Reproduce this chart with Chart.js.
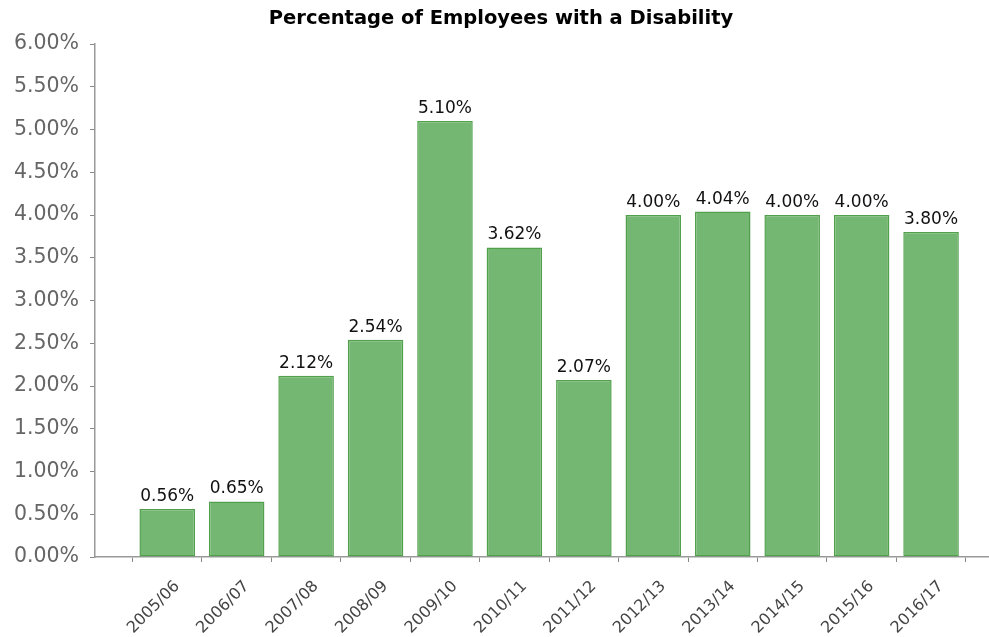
<!DOCTYPE html>
<html>
<head>
<meta charset="utf-8">
<script src="https://cdn.jsdelivr.net/npm/chart.js@4.4.1/dist/chart.umd.min.js"></script>
<style>
  html, body { margin: 0; padding: 0; background: #fff; }
  #wrap { width: 989px; height: 637px; }
</style>
</head>
<body>
<div id="wrap"><canvas id="disability-chart"></canvas></div>
<script>
const PERIODS = [
  '2005/06', '2006/07', '2007/08', '2008/09', '2009/10', '2010/11',
  '2011/12', '2012/13', '2013/14', '2014/15', '2015/16', '2016/17'
];

const PERCENTAGES = [0.56, 0.65, 2.12, 2.54, 5.10, 3.62, 2.07, 4.00, 4.04, 4.00, 4.00, 3.80];

const Y_TICKS = [0, 0.5, 1, 1.5, 2, 2.5, 3, 3.5, 4, 4.5, 5, 5.5, 6];

const FONT = "'DejaVu Sans', Verdana, sans-serif";

// draws the value above every bar, the page has no datalabels plugin
const valueLabels = {
  id: 'valueLabels',
  afterDatasetsDraw(chart) {
    const ctx = chart.ctx;
    const meta = chart.getDatasetMeta(0);
    ctx.save();
    ctx.font = '17px ' + FONT;
    ctx.fillStyle = '#111';
    ctx.textAlign = 'center';
    ctx.textBaseline = 'alphabetic';
    meta.data.forEach((bar, i) => {
      ctx.fillText(PERCENTAGES[i].toFixed(2) + '%', bar.x, bar.y - 8);
    });
    ctx.restore();
  }
};

const points = PERCENTAGES.map((v, i) => ({ x: i, y: v }));

new Chart(document.getElementById('disability-chart'), {
  type: 'bar',
  data: {
    datasets: [{
      label: 'Percentage of Employees with a Disability',
      data: points,
      backgroundColor: 'rgb(116, 183, 114)',
      borderColor: 'rgb(80, 160, 76)',
      borderWidth: 1.5,
      borderSkipped: false,
      barPercentage: 0.8,
      categoryPercentage: 1
    }]
  },
  plugins: [valueLabels],
  options: {
    responsive: true,
    maintainAspectRatio: false,
    animation: false,
    layout: {
      padding: { left: 14, right: 1, top: 0, bottom: 0 }
    },
    scales: {
      x: {
        type: 'linear',
        min: -1.04,
        max: 11.82,
        offset: false,
        afterBuildTicks: (scale) => {
          scale.ticks = PERIODS.map((_, i) => ({ value: i }));
        },
        afterFit: (scale) => {
          scale.height = 80;
        },
        grid: {
          display: true,
          drawOnChartArea: false,
          drawTicks: true,
          tickLength: 5,
          color: '#888'
        },
        border: { color: '#999', width: 1.5 },
        ticks: {
          autoSkip: false,
          minRotation: 45,
          maxRotation: 45,
          padding: 15,
          labelOffset: 10,
          color: '#444',
          font: { family: FONT, size: 16 },
          callback: (value) => PERIODS[value]
        }
      },
      y: {
        min: 0,
        max: 6,
        afterBuildTicks: (scale) => {
          scale.ticks = Y_TICKS.map((v) => ({ value: v }));
        },
        afterFit: (scale) => {
          scale.width = 81;
        },
        grid: {
          display: true,
          drawOnChartArea: false,
          drawTicks: true,
          tickLength: 5,
          color: '#888'
        },
        border: { color: '#999', width: 1.5 },
        ticks: {
          padding: 11,
          color: '#666',
          font: { family: FONT, size: 20.5 },
          callback: (value) => value.toFixed(2) + '%'
        }
      }
    },
    plugins: {
      legend: { display: false },
      tooltip: { enabled: false },
      title: {
        display: true,
        text: 'Percentage of Employees with a Disability',
        color: '#000',
        font: { family: FONT, size: 19.5, weight: 'bold', lineHeight: 1.2 },
        padding: { top: 7.3, bottom: 13.3 }
      }
    }
  }
});
</script>
</body>
</html>
